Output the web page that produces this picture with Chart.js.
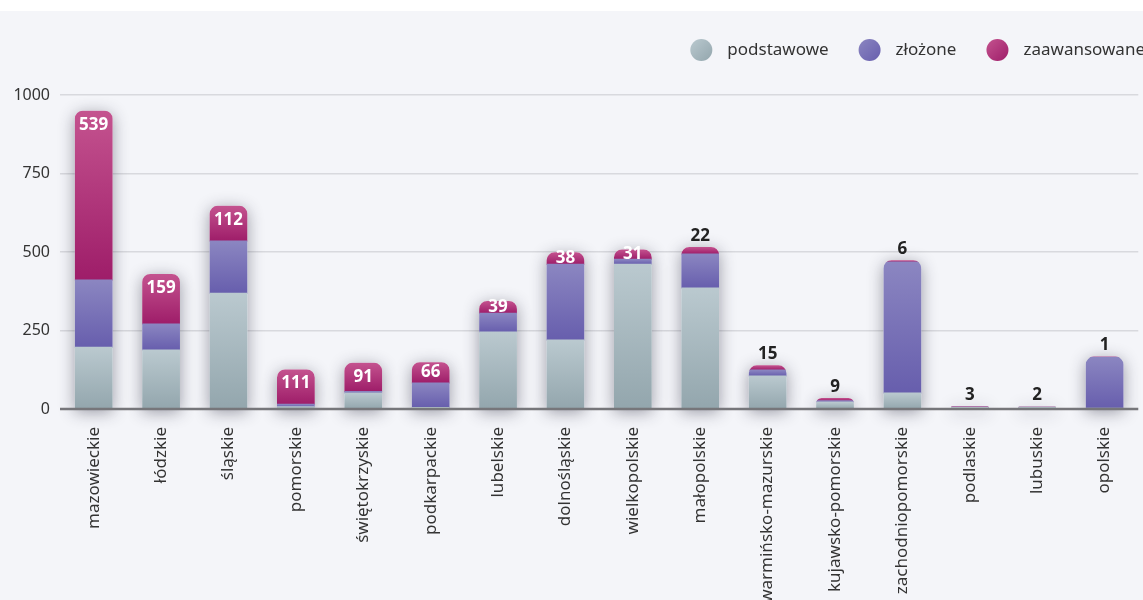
<!DOCTYPE html>
<html lang="pl">
<head>
<meta charset="utf-8">
<script src="https://cdn.jsdelivr.net/npm/chart.js@4.4.1/dist/chart.umd.min.js"></script>
<style>
  html, body { margin: 0; padding: 0; background: #ffffff; }
  #wrap { position: absolute; left: 0; top: 11px; width: 1143px; height: 589px; background: #f4f5f9; overflow: hidden; }
  #chart { display: block; }
</style>
</head>
<body>
<div id="wrap"><canvas id="chart" width="1143" height="589"></canvas></div>
<script>
  // Województwa
  const categories = ['mazowieckie', 'łódzkie', 'śląskie', 'pomorskie', 'świętokrzyskie', 'podkarpackie',
    'lubelskie', 'dolnośląskie', 'wielkopolskie', 'małopolskie', 'warmińsko-mazurskie',
    'kujawsko-pomorskie', 'zachodniopomorskie', 'podlaskie', 'lubuskie', 'opolskie'];
  const podstawowe = [197, 188, 369, 7, 51, 5, 245, 220, 461, 385, 105, 22, 51, 5, 6, 2];
  const zlozone = [214, 83, 166, 8, 5, 78, 60, 241, 16, 109, 19, 4, 417, 1, 0, 164];
  const zaawansowane = [539, 159, 112, 111, 91, 66, 39, 38, 31, 22, 15, 9, 6, 3, 2, 1];
  const yTicks = [0, 250, 500, 750, 1000];
  const names = ['podstawowe', 'złożone', 'zaawansowane'];

  const series = [podstawowe, zlozone, zaawansowane];
  const gradTop = ['#bac9cf', '#8b86c1', '#c4538f'];
  const gradBottom = ['#93a6ad', '#675ead', '#9e1d69'];
  const fontFamily = '"Noto Sans", "Open Sans", sans-serif';

  const stackTotal = i => podstawowe[i] + zlozone[i] + zaawansowane[i];

  // Gradient for each segment, from its own top to its own bottom
  function segmentGradient(c) {
    const chart = c.chart;
    const ds = c.datasetIndex;
    if (!chart.chartArea || c.type !== 'data') return gradTop[ds];
    const i = c.dataIndex;
    let start = 0;
    for (let k = 0; k < ds; k++) start += series[k][i];
    const end = start + series[ds][i];
    const y = chart.scales.y;
    const y1 = y.getPixelForValue(end);
    let y2 = y.getPixelForValue(start);
    if (y2 - y1 < 1) y2 = y1 + 1;
    const g = chart.ctx.createLinearGradient(0, y1, 0, y2);
    g.addColorStop(0, gradTop[ds]);
    g.addColorStop(1, gradBottom[ds]);
    return g;
  }

  function stackPath(ctx, chart, i) {
    const el = chart.getDatasetMeta(0).data[i];
    const y = chart.scales.y;
    const top = y.getPixelForValue(stackTotal(i));
    const base = y.getPixelForValue(0);
    const w = el.width;
    const h = base - top;
    const r = Math.min(8, h / 2, w / 2);
    ctx.roundRect(el.x - w / 2, top, w, h, [r, r, 0, 0]);
  }

  const barDecor = {
    id: 'barDecor',
    beforeDatasetsDraw(chart) {
      const ctx = chart.ctx;
      // shadows behind whole stacks
      ctx.save();
      ctx.shadowColor = 'rgba(40, 40, 60, 0.45)';
      ctx.shadowBlur = 16;
      ctx.shadowOffsetX = 0;
      ctx.shadowOffsetY = 3;
      ctx.fillStyle = '#f4f5f9';
      categories.forEach((_, i) => {
        ctx.beginPath();
        stackPath(ctx, chart, i);
        ctx.fill();
      });
      ctx.restore();
      // clip bars to rounded stacks
      ctx.save();
      ctx.beginPath();
      categories.forEach((_, i) => stackPath(ctx, chart, i));
      ctx.clip();
    },
    afterDatasetsDraw(chart) {
      const ctx = chart.ctx;
      ctx.restore();
      const y = chart.scales.y;
      const area = chart.chartArea;
      const y0 = y.getPixelForValue(0);
      // zero line
      ctx.save();
      ctx.strokeStyle = '#76767a';
      ctx.lineWidth = 2.5;
      ctx.beginPath();
      ctx.moveTo(area.left, y0);
      ctx.lineTo(area.right, y0);
      ctx.stroke();
      // value labels for zaawansowane
      ctx.font = 'bold 17px ' + fontFamily;
      ctx.textAlign = 'center';
      ctx.textBaseline = 'middle';
      const meta = chart.getDatasetMeta(2);
      zaawansowane.forEach((v, i) => {
        const el = meta.data[i];
        const top = y.getPixelForValue(stackTotal(i));
        const segBottom = y.getPixelForValue(stackTotal(i) - v);
        const h = segBottom - top;
        if (h >= 9) {
          ctx.fillStyle = '#ffffff';
          ctx.fillText(String(v), el.x, top + Math.min(14, h / 2));
        } else {
          ctx.fillStyle = '#222222';
          ctx.fillText(String(v), el.x, top - 11);
        }
      });
      ctx.restore();
    },
    afterDraw(chart) {
      // legend with round markers, right aligned
      const ctx = chart.ctx;
      ctx.save();
      ctx.font = '17px ' + fontFamily;
      ctx.textBaseline = 'middle';
      ctx.textAlign = 'left';
      const cy = 39;
      let cursor = chart.width + 2;
      for (let k = names.length - 1; k >= 0; k--) {
        const tw = ctx.measureText(names[k]).width;
        const tx = cursor - tw;
        const cx = tx - 26;
        const g = ctx.createLinearGradient(cx - 11, cy - 11, cx + 11, cy + 11);
        g.addColorStop(0, gradTop[k]);
        g.addColorStop(1, gradBottom[k]);
        ctx.fillStyle = g;
        ctx.beginPath();
        ctx.arc(cx, cy, 11, 0, Math.PI * 2);
        ctx.fill();
        ctx.fillStyle = '#333333';
        ctx.fillText(names[k], tx, cy);
        cursor = cx - 11 - 30;
      }
      ctx.restore();
    }
  };

  const datasets = series.map((data, k) => ({
    label: names[k],
    data: data,
    backgroundColor: segmentGradient,
    borderWidth: 0,
    borderRadius: 0,
    inflateAmount: 0.5,
    categoryPercentage: 0.8,
    barPercentage: 0.7
  }));

  const ctx = document.getElementById('chart').getContext('2d');
  const chart = new Chart(ctx, {
    type: 'bar',
    data: { labels: categories, datasets: datasets },
    options: {
      responsive: false,
      animation: false,
      layout: { padding: { top: 84, right: -3, left: 0, bottom: 0 } },
      plugins: {
        tooltip: { enabled: false },
        legend: { display: false }
      },
      scales: {
        x: {
          stacked: true,
          grid: { display: false, drawTicks: false },
          border: { display: false },
          ticks: {
            minRotation: 90,
            maxRotation: 90,
            autoSkip: false,
            padding: 18,
            color: '#333333',
            font: { family: fontFamily, size: 17 }
          },
          afterFit(scale) { scale.height = 191; }
        },
        y: {
          stacked: true,
          min: 0,
          max: 1000,
          afterBuildTicks(scale) { scale.ticks = yTicks.map(v => ({ value: v })); },
          grid: {
            drawTicks: false,
            color: c => c.tick && c.tick.value === 0 ? 'rgba(0,0,0,0)' : '#d8d9de',
            lineWidth: 1.5
          },
          border: { display: false },
          ticks: {
            padding: 10,
            color: '#333333',
            font: { family: fontFamily, size: 16 },
            callback: v => String(v)
          },
          afterFit(scale) { scale.width = 60; }
        }
      }
    },
    plugins: [barDecor]
  });
</script>
</body>
</html>
